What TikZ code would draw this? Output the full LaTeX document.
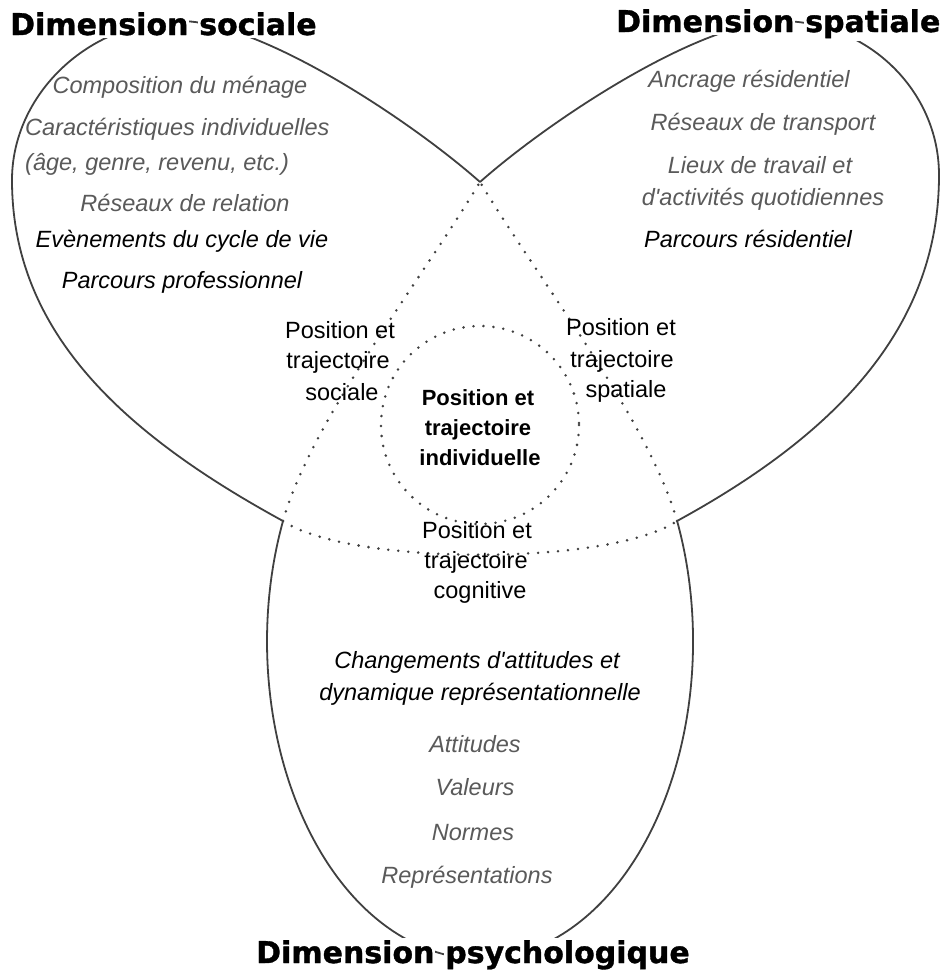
\documentclass[tikz,border=0pt]{standalone}
\usepackage{fontspec}
\setmainfont{Liberation Sans}
\newfontfamily\titlefont{DejaVu Sans}[BoldFeatures={FakeBold=1.2}]
\definecolor{linegray}{HTML}{404040}
\definecolor{textgray}{HTML}{5A5A5A}
\tikzset{
  outline/.style={draw=linegray, line width=1.8pt, line join=round},
  dotline/.style={draw=linegray, line width=2.8pt, line cap=round, dash pattern=on 0pt off 10pt},
  item/.style={font=\fontsize{23.5}{28}\selectfont\itshape, inner sep=0pt, anchor=base},
  grayitem/.style={item, text=textgray},
  blackitem/.style={item, text=black},
  posnode/.style={font=\fontsize{23.5}{28}\selectfont, inner sep=0pt, anchor=base},
  corepos/.style={font=\fontsize{22}{26}\selectfont\bfseries, inner sep=0pt, anchor=base},
  titleword/.style={font=\titlefont\bfseries\fontsize{30}{36}\selectfont, fill=white, inner xsep=1pt, inner ysep=2.5pt, anchor=base west},
}
\begin{document}
\begin{tikzpicture}[x=1pt, y=-1pt]
\useasboundingbox (0,0) rectangle (940,977);
\fill[white] (0,0) rectangle (940,977);

\coordinate (V) at (480,182);
\coordinate (L) at (283,521);
\coordinate (R) at (677,521);

% solid outer boundaries
\draw[outline] (V) .. controls (410,120) and (260,21) .. (180,21)
  .. controls (88,21) and (12,95) .. (12,180)
  .. controls (12,330) and (120,432) .. (L);
\draw[outline] (V) .. controls (550,120) and (700,21) .. (780,21)
  .. controls (867,21) and (939,90) .. (939,175)
  .. controls (939,325) and (840,432) .. (R);
\draw[outline] (L) arc[start angle=202.3, end angle=-22.3, x radius=213, y radius=317.4];

% dotted inner boundaries
\draw[dotline] (L) .. controls (311,421) and (420,282) .. (V);
\draw[dotline] (R) .. controls (649,421) and (540,282) .. (V);
\draw[dotline] (L) .. controls (350,566) and (610,566) .. (R);
\draw[dotline] (480,425) circle[radius=99];

% social dimension
\node[grayitem] (s1) at (180,93) {Composition du ménage};
\node[grayitem, anchor=base west] (s2) at (25,135) {Caractéristiques individuelles};
\node[grayitem, anchor=base west] (s3) at (25,170) {(âge, genre, revenu, etc.)};
\node[grayitem] (s4) at (185,211) {Réseaux de relation};
\node[blackitem] (s5) at (182,247) {Evènements du cycle de vie};
\node[blackitem] (s6) at (182,288) {Parcours professionnel};

% spatial dimension
\node[grayitem] (p1) at (749,87) {Ancrage résidentiel};
\node[grayitem] (p2) at (763,130) {Réseaux de transport};
\node[grayitem] (p3) at (760,173) {Lieux de travail et};
\node[grayitem] (p4) at (763,205) {d\textquotesingle activités quotidiennes};
\node[blackitem] (p5) at (748,247) {Parcours résidentiel};

% intersections
\node[posnode] (ms1) at (340,338) {Position et};
\node[posnode] (ms2) at (338,368) {trajectoire};
\node[posnode] (ms3) at (342,400) {sociale};
\node[posnode] (mp1) at (621,335) {Position et};
\node[posnode] (mp2) at (622,367) {trajectoire};
\node[posnode] (mp3) at (626,397) {spatiale};
\node[corepos] (c1) at (478,405) {Position et};
\node[corepos] (c2) at (478,435) {trajectoire};
\node[corepos] (c3) at (480,465) {individuelle};
\node[posnode] (mc1) at (477,538) {Position et};
\node[posnode] (mc2) at (476,568) {trajectoire};
\node[posnode] (mc3) at (480,598) {cognitive};

% psychological dimension
\node[blackitem] (y1) at (477,668) {Changements d\textquotesingle attitudes et};
\node[blackitem] (y2) at (480,700) {dynamique représentationnelle};
\node[grayitem] (y3) at (475,752) {Attitudes};
\node[grayitem] (y4) at (475,795) {Valeurs};
\node[grayitem] (y5) at (473,840) {Normes};
\node[grayitem] (y6) at (467,883) {Représentations};

% titles
\node[titleword] (ts1) at (9,35) {Dimension};
\node[titleword] (ts2) at ([xshift=8.4pt]ts1.base east) {sociale};
\node[titleword] (tp1) at (615,32) {Dimension};
\node[titleword] (tp2) at ([xshift=8.4pt]tp1.base east) {spatiale};
\node[titleword] (ty1) at (255,963) {Dimension};
\node[titleword] (ty2) at ([xshift=8.4pt]ty1.base east) {psychologique};
\end{tikzpicture}
\end{document}
